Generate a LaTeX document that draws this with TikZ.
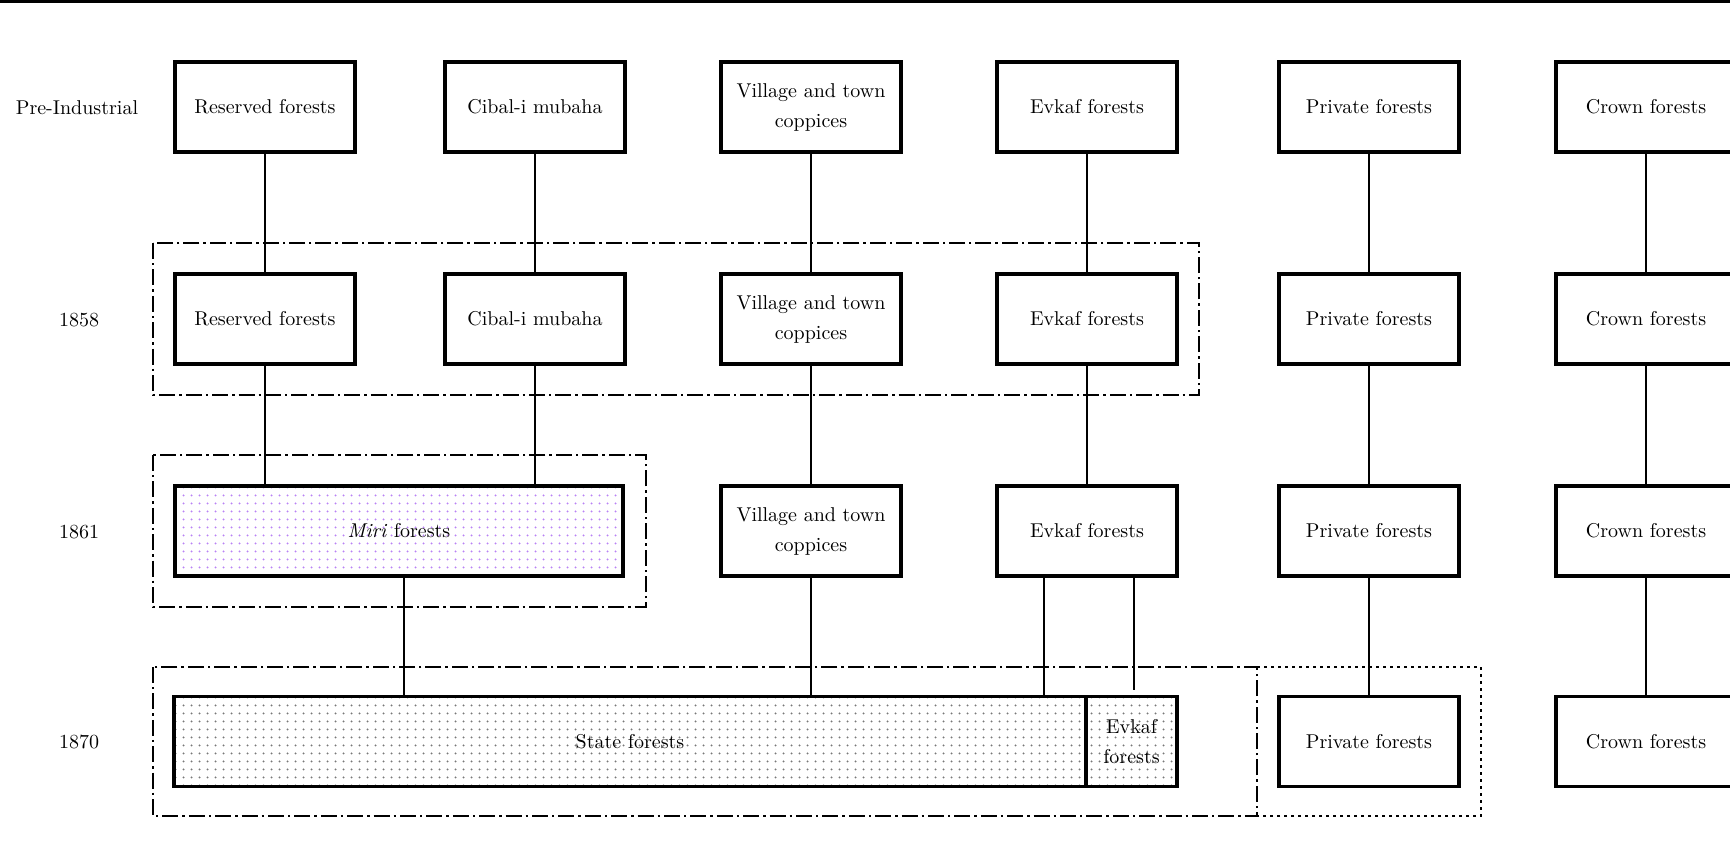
\documentclass[tikz,border=0pt]{standalone}
\usetikzlibrary{patterns.meta}
\definecolor{violetdot}{RGB}{185,130,245}
\definecolor{graydot}{RGB}{120,120,120}
\tikzdeclarepattern{
  name=fdots,
  type=uncolored,
  bottom left={(0pt,0pt)},
  top right={(3.75pt,3.75pt)},
  tile size={(3.75pt,3.75pt)},
  code={\fill (1.875pt,1.875pt) circle (0.55pt);}
}
\begin{document}
\begin{tikzpicture}[x=0.5pt,y=-0.5pt,
  box/.style={draw, line width=1.6pt, minimum width=90pt, minimum height=45pt,
    inner sep=0pt, align=center, font=\fontsize{10}{15}\selectfont},
  lbl/.style={inner sep=0pt, font=\fontsize{10}{15}\selectfont},
  conn/.style={line width=0.65pt},
  grp/.style={line width=0.65pt, dash pattern=on 8pt off 2pt on 1.2pt off 2pt},
  dgrp/.style={line width=0.65pt, dash pattern=on 1.5pt off 2pt}]
\useasboundingbox (0,0) rectangle (1730,841);
\draw[line width=1.3pt] (0,1.3) -- (1730,1.3);

% row labels
\node[lbl] (lpre) at (77,108) {Pre-Industrial};
\node[lbl] (l58) at (79,320) {1858};
\node[lbl] (l61) at (79,532) {1861};
\node[lbl] (l70) at (79,742) {1870};

% group frames
\draw[grp] (153,243) rectangle (1199,395);
\draw[grp] (153,455) rectangle (646,607);
\draw[grp] (153,667) rectangle (1257,816);
\draw[dgrp] (1257,667) -- (1481,667) -- (1481,816) -- (1257,816);

% row 1
\node[box] (a1) at (265,107) {Reserved forests};
\node[box] (a2) at (535,107) {Cibal-i mubaha};
\node[box] (a3) at (811,107) {Village and town\\coppices};
\node[box] (a4) at (1087,107) {Evkaf forests};
\node[box] (a5) at (1369,107) {Private forests};
\node[box] (a6) at (1646,107) {Crown forests};
% row 2
\node[box] (b1) at (265,319) {Reserved forests};
\node[box] (b2) at (535,319) {Cibal-i mubaha};
\node[box] (b3) at (811,319) {Village and town\\coppices};
\node[box] (b4) at (1087,319) {Evkaf forests};
\node[box] (b5) at (1369,319) {Private forests};
\node[box] (b6) at (1646,319) {Crown forests};
% row 3
\node[box, minimum width=224pt, pattern={fdots}, pattern color=violetdot] (c1) at (399,531) {\textit{Miri} forests};
\node[box] (c3) at (811,531) {Village and town\\coppices};
\node[box] (c4) at (1087,531) {Evkaf forests};
\node[box] (c5) at (1369,531) {Private forests};
\node[box] (c6) at (1646,531) {Crown forests};
% row 4
\node[box, minimum width=456pt, pattern={fdots}, pattern color=graydot] (d1) at (630,741.5) {State forests};
\node[box, minimum width=45.5pt, pattern={fdots}, pattern color=graydot] (d4) at (1131.5,741.5) {Evkaf\\forests};
\node[box] (d5) at (1369,741.5) {Private forests};
\node[box] (d6) at (1646,741.5) {Crown forests};

% connectors row 1 -> row 2
\foreach \i in {1,...,6} { \draw[conn] (a\i) -- (b\i); }
% row 2 -> row 3
\draw[conn] (b1.south) -- (b1.south |- c1.north);
\draw[conn] (b2.south) -- (b2.south |- c1.north);
\draw[conn] (b3) -- (c3);
\draw[conn] (b4) -- (c4);
\draw[conn] (b5) -- (c5);
\draw[conn] (b6) -- (c6);
% row 3 -> row 4
\draw[conn] ([xshift=2.5pt]c1.south) -- ([xshift=2.5pt]c1.south |- d1.north);
\draw[conn] (c3.south) -- (c3.south |- d1.north);
\draw[conn] ([xshift=-21.5pt]c4.south) -- ([xshift=-21.5pt]c4.south |- d1.north);
\coordinate (e4end) at ([xshift=23.5pt,yshift=2.5pt]c4.south |- d4.north);
\draw[conn] ([xshift=23.5pt]c4.south) -- (e4end);
\draw[conn] (c5) -- (d5);
\draw[conn] (c6) -- (d6);
\end{tikzpicture}
\end{document}
